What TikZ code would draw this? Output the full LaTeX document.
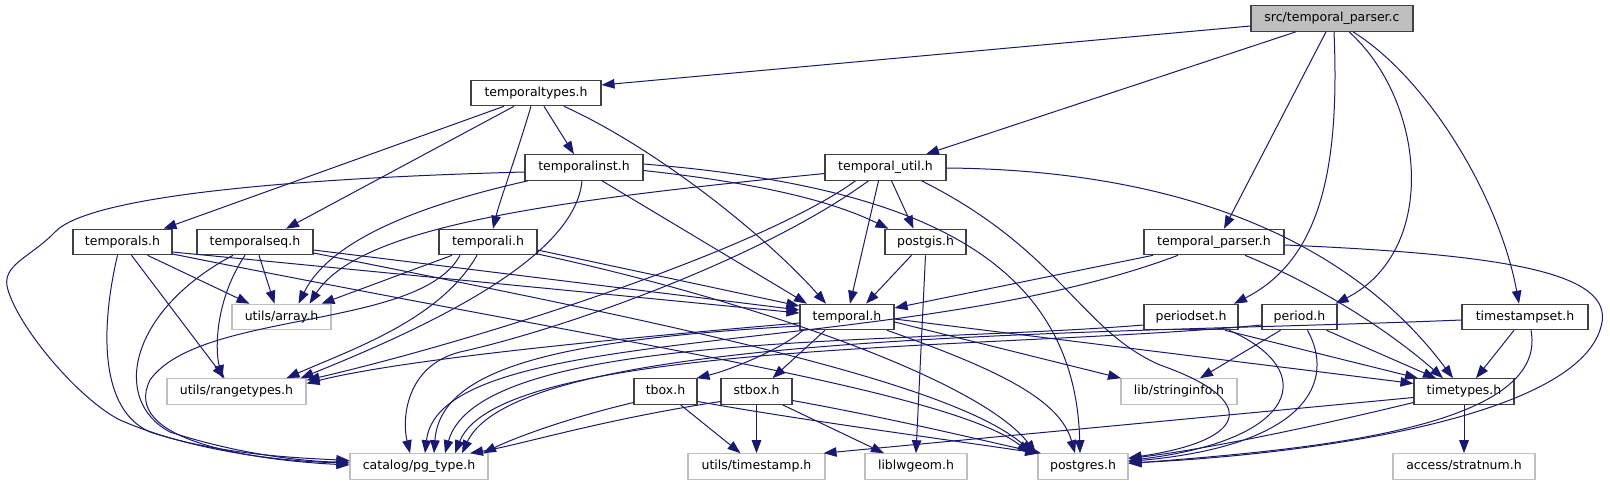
\documentclass[tikz,border=0pt]{standalone}
\usepackage{fontspec}
\setmainfont{DejaVu Sans}
\usepackage{tikz}
\usetikzlibrary{arrows.meta}

\definecolor{midblue}{RGB}{25,25,112}
\definecolor{grey75}{RGB}{191,191,191}

\begin{document}
\begin{tikzpicture}[
    x=1pt, y=-1pt,
    box/.style={
        rectangle, draw=black!75, line width=1.1pt,
        minimum height=25.5pt, inner sep=0pt,
        text height=9.5pt, text depth=3pt,
        font=\fontsize{12.5}{15}\selectfont
    },
    extbox/.style={box, draw=grey75},
    rootbox/.style={box, fill=grey75},
    edge/.style={-{Triangle[length=13pt, width=9.5pt]}, line width=1pt, draw=midblue}
]
\useasboundingbox (0,0) rectangle (1610,485);

% Nodes, row by row
\node[rootbox, minimum width=162pt] (root) at (1332,18.5) {src/temporal\_parser.c};

\node[box, minimum width=130pt] (ttypes) at (536,93) {temporaltypes.h};

\node[box, minimum width=118pt] (tinst) at (584,167.5) {temporalinst.h};
\node[box, minimum width=121pt] (tutil) at (885.5,167.5) {temporal\_util.h};

\node[box, minimum width=99pt] (tls) at (122.5,242) {temporals.h};
\node[box, minimum width=116pt] (tseq) at (255,242) {temporalseq.h};
\node[box, minimum width=98pt] (tli) at (488,242) {temporali.h};
\node[box, minimum width=81pt] (pgis) at (925.5,242) {postgis.h};
\node[box, minimum width=140pt] (tparser) at (1214,242) {temporal\_parser.h};

\node[extbox, minimum width=99pt] (uarray) at (281.5,317) {utils/array.h};
\node[box, minimum width=94pt] (temporal) at (847,317) {temporal.h};
\node[box, minimum width=94pt] (pset) at (1191,317) {periodset.h};
\node[box, minimum width=75pt] (period) at (1299.5,317) {period.h};
\node[box, minimum width=126pt] (tsset) at (1525,317) {timestampset.h};

\node[extbox, minimum width=139pt] (urange) at (236.5,391.5) {utils/rangetypes.h};
\node[box, minimum width=63pt] (tbox) at (665.5,391.5) {tbox.h};
\node[box, minimum width=71pt] (stbox) at (756.5,391.5) {stbox.h};
\node[extbox, minimum width=116pt] (sinfo) at (1179,391.5) {lib/stringinfo.h};
\node[box, minimum width=100pt] (timet) at (1464,391.5) {timetypes.h};

\node[extbox, minimum width=138pt] (pgtype) at (419,466.5) {catalog/pg\_type.h};
\node[extbox, minimum width=137pt] (utstamp) at (756.5,466.5) {utils/timestamp.h};
\node[extbox, minimum width=102pt] (lwgeom) at (916,466.5) {liblwgeom.h};
\node[extbox, minimum width=90pt] (pgres) at (1083,466.5) {postgres.h};
\node[extbox, minimum width=142pt] (strat) at (1464,466.5) {access/stratnum.h};

% src/temporal_parser.c
\draw[edge] ([yshift=-7.5pt]root.west) -- ([yshift=8pt]ttypes.east);
\draw[edge] ([xshift=-36pt]root.south) -- ([xshift=40.5pt]tutil.north);
\draw[edge] ([xshift=-6pt]root.south) -- ([xshift=10pt]tparser.north);
\draw[edge] ([xshift=2pt]root.south) .. controls (1340,170) and (1320,260) .. ([xshift=43pt]pset.north);
\draw[edge] ([xshift=17pt]root.south) .. controls (1425,100) and (1440,250) .. ([xshift=36pt]period.north);
\draw[edge] ([xshift=21pt]root.south) .. controls (1430,80) and (1500,200) .. ([xshift=-6pt]tsset.north);

% temporaltypes.h
\draw[edge] ([xshift=-32pt]ttypes.south) -- ([xshift=41pt]tls.north);
\draw[edge] ([xshift=-22pt]ttypes.south) -- ([xshift=31pt]tseq.north);
\draw[edge] ([xshift=-5pt]ttypes.south) .. controls (515,160) and (500,200) .. ([xshift=5pt]tli.north);
\draw[edge] ([xshift=8pt]ttypes.south) -- ([xshift=-10pt]tinst.north);
\draw[edge] ([xshift=28pt]ttypes.south) .. controls (660,150) and (770,240) .. ([xshift=-21pt]temporal.north);

% temporalinst.h
\draw[edge] ([yshift=-4.5pt]tinst.west) .. controls (300,178) and (90,195) .. (55,232)
    .. controls (30,258) and (0,265) .. (8,290) .. controls (20,330) and (80,400) .. (120,420)
    .. controls (200,455) and (300,462) .. ([yshift=3.5pt]pgtype.west);
\draw[edge] ([xshift=-56pt]tinst.south) .. controls (420,205) and (330,240) .. ([xshift=17pt]uarray.north);
\draw[edge] ([xshift=-2pt]tinst.south) .. controls (575,260) and (420,330) .. ([xshift=-6pt]urange.north east);
\draw[edge] ([xshift=18pt]tinst.south) -- ([xshift=-40pt]temporal.north);
\draw[edge] ([yshift=-3pt]tinst.east) .. controls (730,180) and (820,195) .. ([xshift=4pt]pgis.north west);
\draw[edge] ([yshift=3.5pt]tinst.east) .. controls (900,185) and (1075,250) .. ([xshift=-3pt]pgres.north);

% temporal_util.h
\draw[edge] ([yshift=-6pt]tutil.west) .. controls (560,200) and (360,225) .. ([xshift=28pt]uarray.north);
\draw[edge] ([xshift=-30pt]tutil.south) .. controls (760,250) and (480,340) .. ([yshift=-2pt]urange.north east);
\draw[edge] ([xshift=-17pt]tutil.south) .. controls (760,260) and (560,330) .. (460,352)
    .. controls (405,366) and (402,420) .. ([xshift=-9pt]pgtype.north);
\draw[edge] ([xshift=-7pt]tutil.south) -- ([xshift=3pt]temporal.north);
\draw[edge] ([xshift=6pt]tutil.south) -- ([xshift=-12pt]pgis.north);
\draw[edge] ([xshift=36pt]tutil.south) .. controls (1060,250) and (1080,330) .. (1160,365)
    .. controls (1260,400) and (1250,440) .. ([yshift=8.5pt]pgres.east);
\draw[edge] ([yshift=-0.5pt]tutil.east) .. controls (1180,170) and (1350,240) .. ([xshift=-11pt]timet.north);

% temporals.h
\draw[edge] ([xshift=-5pt]tls.south) .. controls (100,330) and (100,410) .. (150,432)
    .. controls (220,455) and (300,458) .. ([yshift=6pt]pgtype.west);
\draw[edge] ([xshift=9pt]tls.south) -- ([xshift=-12pt]urange.north);
\draw[edge] ([xshift=25pt]tls.south) -- ([xshift=-32pt]uarray.north);
\draw[edge] ([yshift=-10pt]tls.east) -- ([yshift=4pt]temporal.west);
\draw[edge] ([yshift=-12pt]tls.east) .. controls (600,340) and (950,390) .. ([xshift=-53pt]pgres.north);

% temporalseq.h
\draw[edge] ([xshift=-22pt]tseq.south) .. controls (130,310) and (110,400) .. (170,432)
    .. controls (250,458) and (320,462) .. ([yshift=4.5pt]pgtype.west);
\draw[edge] ([xshift=-10pt]tseq.south) .. controls (215,300) and (215,350) .. ([xshift=-14pt]urange.north);
\draw[edge] ([xshift=4pt]tseq.south) -- ([xshift=-7pt]uarray.north);
\draw[edge] ([yshift=-8pt]tseq.east) -- ([yshift=7pt]temporal.west);
\draw[edge] ([yshift=-11pt]tseq.east) .. controls (650,320) and (950,380) .. ([xshift=-50pt]pgres.north);

% temporali.h
\draw[edge] ([xshift=-36pt]tli.south) -- ([xshift=40pt]uarray.north);
\draw[edge] ([xshift=-11pt]tli.south) .. controls (440,320) and (350,350) .. ([xshift=50pt]urange.north);
\draw[edge] ([xshift=-28pt]tli.south) .. controls (420,330) and (200,310) .. (150,380)
    .. controls (120,440) and (250,460) .. ([yshift=1.5pt]pgtype.west);
\draw[edge] ([yshift=-8pt]tli.east) -- ([yshift=11pt]temporal.west);
\draw[edge] ([yshift=-12pt]tli.east) .. controls (750,300) and (980,380) .. ([xshift=-47pt]pgres.north);

% postgis.h
\draw[edge] ([xshift=-14pt]pgis.south) -- ([xshift=19pt]temporal.north);
\draw[edge] (pgis.south) -- (lwgeom.north);

% temporal_parser.h
\draw[edge] ([xshift=-61pt]tparser.south) -- ([yshift=9pt]temporal.east);
\draw[edge] ([xshift=-36pt]tparser.south) .. controls (900,360) and (440,320) .. ([xshift=6pt]pgtype.north);
\draw[edge] ([xshift=31pt]tparser.south) .. controls (1330,290) and (1400,340) .. ([xshift=-21pt]timet.north);
\draw[edge] ([yshift=-3pt]tparser.east) .. controls (1520,255) and (1620,275) .. (1600,330)
    .. controls (1570,420) and (1300,455) .. ([yshift=3.5pt]pgres.east);

% temporal.h
\draw[edge] ([yshift=-6pt]temporal.west) .. controls (600,340) and (400,360) .. ([yshift=8pt]urange.east);
\draw[edge] ([yshift=-9pt]temporal.west) .. controls (550,340) and (440,370) .. ([xshift=15pt]pgtype.north);
\draw[edge] ([xshift=-44pt]temporal.south) .. controls (780,350) and (730,370) .. ([xshift=31pt]tbox.north);
\draw[edge] ([xshift=-22pt]temporal.south) -- ([xshift=16pt]stbox.north);
\draw[edge] ([yshift=-5pt]temporal.east) -- ([xshift=-58pt]sinfo.north);
\draw[edge] ([yshift=-2pt]temporal.east) -- ([yshift=8pt]timet.west);
\draw[edge] ([xshift=40pt]temporal.south) .. controls (1000,370) and (1060,400) .. ([xshift=-8pt]pgres.north);

% periodset.h
\draw[edge] ([yshift=-8pt]pset.west) .. controls (900,345) and (480,330) .. ([xshift=26pt]pgtype.north);
\draw[edge] ([xshift=34pt]pset.south) -- ([xshift=-46pt]timet.north);
\draw[edge] ([xshift=38pt]pset.south) .. controls (1320,370) and (1300,440) .. ([yshift=6pt]pgres.east);

% period.h
\draw[edge] ([yshift=-8pt]period.west) .. controls (1000,350) and (500,340) .. ([xshift=36pt]pgtype.north);
\draw[edge] ([xshift=-19pt]period.south) -- ([xshift=21pt]sinfo.north);
\draw[edge] ([xshift=27pt]period.south) -- ([xshift=-28pt]timet.north);
\draw[edge] ([xshift=8pt]period.south) .. controls (1335,380) and (1310,445) .. ([yshift=5pt]pgres.east);

% timestampset.h
\draw[edge] ([yshift=-3pt]tsset.west) .. controls (1100,335) and (520,330) .. ([xshift=43pt]pgtype.north);
\draw[edge] ([xshift=-11pt]tsset.south) -- ([xshift=12pt]timet.north);
\draw[edge] ([xshift=6pt]tsset.south) .. controls (1550,430) and (1300,450) .. ([yshift=3pt]pgres.east);

% tbox.h
\draw[edge] ([yshift=-11pt]tbox.west) .. controls (560,420) and (510,440) .. ([xshift=64pt]pgtype.north);
\draw[edge] ([xshift=15pt]tbox.south) -- ([xshift=-16pt]utstamp.north);
\draw[edge] ([yshift=-10pt]tbox.east) .. controls (800,420) and (950,440) .. ([xshift=-45pt]pgres.north);

% stbox.h
\draw[edge] ([yshift=-10pt]stbox.west) .. controls (600,420) and (520,445) .. ([xshift=51pt]pgtype.north);
\draw[edge] (stbox.south) -- (utstamp.north);
\draw[edge] ([xshift=26pt]stbox.south) -- ([xshift=-32pt]lwgeom.north);
\draw[edge] ([yshift=-9pt]stbox.east) .. controls (900,420) and (980,440) .. ([xshift=-42pt]pgres.north);

% timetypes.h
\draw[edge] ([yshift=-6pt]timet.west) -- ([xshift=-2pt]utstamp.north east);
\draw[edge] ([yshift=-11pt]timet.west) .. controls (1300,430) and (1200,450) .. ([yshift=8pt]pgres.east);
\draw[edge] (timet.south) -- (strat.north);

\end{tikzpicture}
\end{document}
